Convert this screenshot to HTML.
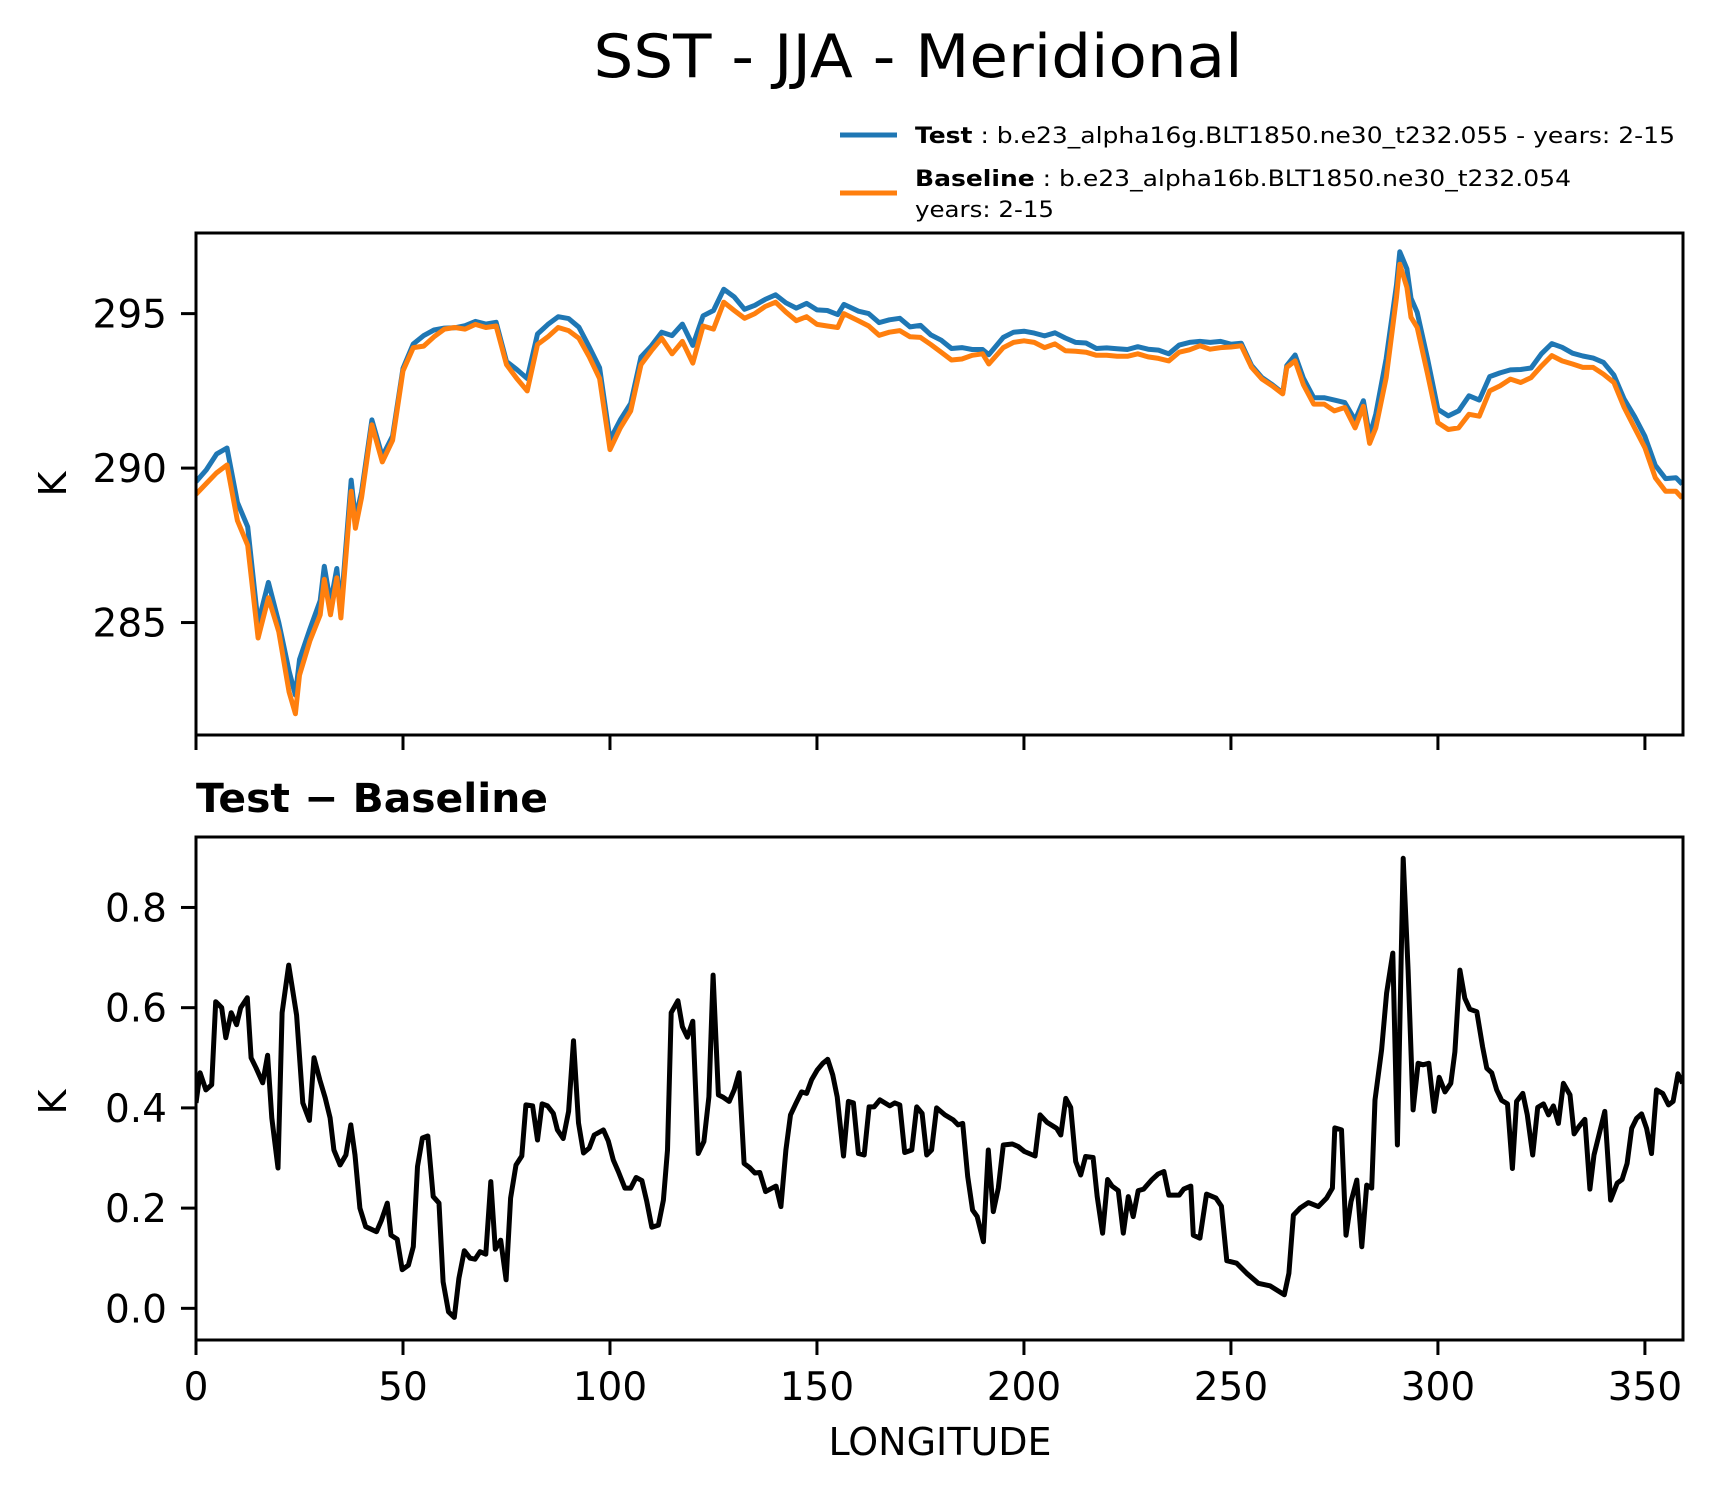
<!DOCTYPE html>
<html><head><meta charset="utf-8">
<style>
html,body{margin:0;padding:0;background:#fff;}
svg{display:block;font-family:"DejaVu Sans","Liberation Sans",sans-serif;}
</style></head>
<body>
<svg id="chart" width="1716" height="1496" viewBox="0 0 1716 1496" xmlns="http://www.w3.org/2000/svg">
  <rect x="0" y="0" width="1716" height="1496" fill="#fff"/>
  <text x="918" y="77" text-anchor="middle" font-size="60" textLength="649" lengthAdjust="spacingAndGlyphs">SST - JJA - Meridional</text>
  <g>
    <line x1="840" y1="135" x2="897" y2="135" stroke="#1f77b4" stroke-width="5"/>
    <text x="915" y="143" font-size="22" textLength="760" lengthAdjust="spacingAndGlyphs"><tspan font-weight="bold">Test</tspan> : b.e23_alpha16g.BLT1850.ne30_t232.055 - years: 2-15</text>
    <line x1="840" y1="193" x2="897" y2="193" stroke="#ff7f0e" stroke-width="5"/>
    <text x="915" y="186" font-size="22" textLength="656" lengthAdjust="spacingAndGlyphs"><tspan font-weight="bold">Baseline</tspan> : b.e23_alpha16b.BLT1850.ne30_t232.054</text>
    <text x="915" y="217" font-size="22" textLength="139" lengthAdjust="spacingAndGlyphs">years: 2-15</text>
  </g>
  <g id="top"></g>
  <text x="196" y="812" font-size="40" font-weight="bold" textLength="352" lengthAdjust="spacingAndGlyphs">Test − Baseline</text>
  <g id="bot"></g>
  <text x="940" y="1455" text-anchor="middle" font-size="38">LONGITUDE</text>
  <text transform="translate(66,484) rotate(-90)" text-anchor="middle" font-size="38">K</text>
  <text transform="translate(66,1102) rotate(-90)" text-anchor="middle" font-size="38">K</text>
</svg>
<script>
const baseLon = [0,2.5,5,7.5,10,12.5,15,17.5,20,22.5,24,25,27.5,30,31,32.5,34,35,37.5,38.5,40,42.5,45,47.5,50,52.5,55,57.5,60,62.5,65,67.5,70,72.5,75,77.5,80,82.5,85,87.5,90,92.5,95,97.5,100,102.5,105,107.5,110,112.5,115,117.5,120,122.5,125,127.5,130,132.5,135,137.5,140,142.5,145,147.5,150,152.5,155,156.5,160,162.5,165,167.5,170,172.5,175,177.5,180,182.5,185,187.5,190,191.5,195,197.5,200,202.5,205,207.5,210,212.5,215,217.5,220,222.5,225,227.5,230,232.5,235,237.5,240,242.5,245,247.5,250,252.5,255,257.5,260,262.5,263.5,265.5,267.5,270,272.5,275,277.5,280,282,283.5,285,287.5,290,290.8,292.5,293.5,295,297.5,300,302.5,305,307.5,310,312.5,315,317.5,320,322.5,325,327.5,330,332.5,335,337.5,340,342.5,345,347.5,350,352.5,355,357.5,359];
const baselineValues = [289.15,289.5,289.85,290.1,288.3,287.5,284.5,285.8,284.7,282.75,282.05,283.3,284.4,285.25,286.4,285.25,286.45,285.15,289.25,288.05,289.05,291.4,290.2,290.9,293.15,293.9,293.95,294.25,294.5,294.55,294.5,294.65,294.55,294.6,293.35,292.9,292.5,294.0,294.25,294.55,294.45,294.2,293.6,292.9,290.6,291.3,291.85,293.35,293.8,294.2,293.7,294.1,293.4,294.6,294.5,295.37,295.1,294.85,295.0,295.23,295.37,295.05,294.77,294.9,294.65,294.6,294.55,295.0,294.77,294.6,294.3,294.4,294.45,294.25,294.23,294.0,293.75,293.5,293.53,293.65,293.7,293.37,293.9,294.07,294.12,294.07,293.9,294.02,293.8,293.78,293.75,293.65,293.65,293.62,293.62,293.7,293.6,293.55,293.47,293.75,293.83,293.96,293.85,293.9,293.92,293.96,293.26,292.88,292.66,292.4,293.26,293.47,292.7,292.07,292.07,291.85,291.96,291.3,292.0,290.8,291.3,292.93,295.53,296.6,295.85,294.88,294.55,293.04,291.47,291.25,291.3,291.74,291.68,292.5,292.66,292.88,292.77,292.93,293.3,293.64,293.47,293.37,293.26,293.26,293.04,292.77,291.96,291.3,290.66,289.69,289.25,289.25,289.03];
const testValues = [289.56,289.94,290.46,290.65,288.89,288.1,284.98,286.3,285.0,283.43,282.65,283.8,284.78,285.71,286.82,285.63,286.75,285.44,289.61,288.36,289.23,291.56,290.38,291.04,293.23,294.02,294.29,294.47,294.53,294.54,294.61,294.75,294.66,294.72,293.45,293.19,292.9,294.34,294.65,294.9,294.84,294.56,293.92,293.25,290.92,291.56,292.09,293.6,293.96,294.4,294.29,294.66,293.97,294.93,295.1,295.79,295.54,295.14,295.27,295.46,295.61,295.35,295.18,295.33,295.12,295.1,294.97,295.3,295.08,295.0,294.71,294.8,294.85,294.57,294.62,294.31,294.14,293.87,293.9,293.84,293.84,293.67,294.23,294.4,294.43,294.37,294.28,294.38,294.21,294.07,294.05,293.87,293.89,293.86,293.84,293.93,293.85,293.82,293.7,293.98,294.07,294.1,294.07,294.1,294.01,294.04,293.32,292.93,292.7,292.43,293.32,293.66,292.91,292.28,292.28,292.2,292.12,291.55,292.18,291.04,291.75,293.55,295.93,297.0,296.45,295.5,295.04,293.53,291.9,291.69,291.85,292.34,292.2,292.96,293.08,293.18,293.19,293.24,293.7,294.03,293.91,293.72,293.63,293.56,293.42,293.01,292.23,291.67,291.03,290.09,289.66,289.69,289.48];
const diffLon = [0,1,2.4,3.8,4.75,6.2,7.2,8.5,9.8,10.8,12.4,13.3,14.5,16.1,17.3,18.3,19.8,20.8,22.4,24.3,25.8,27.4,28.5,29.9,31.2,32.4,33.3,34.8,36.2,37.4,38.4,39.6,41,43.6,44.8,46.2,47.1,48.6,49.8,51.3,52.5,53.5,54.7,56,57.3,58.7,59.7,61,62.4,63.5,64.8,66.2,67.4,68.6,70,71.2,72.3,73.6,74.9,76,77.3,78.7,79.7,81.3,82.5,83.6,84.9,86.3,87.3,88.7,90,91.2,92.4,93.6,95,96.2,98.4,99.6,100.8,102,103.6,105,106.3,107.7,108.9,110.1,111.7,112.9,113.9,114.8,116.4,117.5,118.7,120,121.3,122.7,123.9,124.9,126.2,127.4,128.8,130,131.2,132.4,133.7,135,136.2,137.6,140.1,141.3,142.5,143.6,144.9,146.3,147.5,148.7,150.1,151.4,152.6,153.8,154.9,156.4,157.6,158.8,160,161.4,162.6,163.8,165.2,167.6,168.8,170,171.2,172.9,174.1,175.4,176.5,177.7,178.9,180.9,182.9,184.1,185.2,186.4,187.6,188.7,190.2,191.4,192.6,193.8,195,197.2,198.6,200.1,202.7,203.9,205.6,207.9,208.9,210.1,211.3,212.5,213.7,214.9,216.7,217.7,219,220.2,221.3,222.8,224,225.2,226.4,227.6,228.9,230.8,232.4,233.8,235,237.5,238.6,240.3,240.9,242.5,244.1,246.4,247.7,249,251.4,253.8,256.6,259.4,262.9,264,265.1,266.7,268.7,271.1,273.1,274.5,275.1,276.7,277.8,279,280.4,281.6,282.8,284,284.8,286.4,287.6,289.1,290.2,291.6,292.8,294,295.2,296.4,297.8,299.1,300.3,301.7,303.1,304.1,305.3,306.5,307.7,309.4,310.8,311.8,313,314.2,315.4,316.8,318,319,320.5,321.6,322.9,324.1,325.5,326.7,327.9,329.1,330.3,331.9,332.9,334.1,335.5,336.7,337.7,340.3,341.7,343.3,344.5,345.7,346.8,348,349.2,350.4,351.6,352.8,354.3,355.7,356.8,358,359.1];
const diffValues = [0.41,0.47,0.436,0.446,0.612,0.6,0.54,0.59,0.566,0.6,0.62,0.5,0.48,0.45,0.505,0.38,0.28,0.59,0.685,0.585,0.41,0.375,0.5,0.456,0.42,0.38,0.316,0.286,0.306,0.366,0.306,0.2,0.163,0.153,0.176,0.21,0.146,0.138,0.077,0.086,0.123,0.283,0.34,0.344,0.223,0.21,0.053,-0.007,-0.018,0.06,0.115,0.1,0.098,0.113,0.108,0.253,0.118,0.136,0.057,0.22,0.286,0.304,0.406,0.404,0.336,0.408,0.404,0.389,0.356,0.339,0.393,0.534,0.37,0.31,0.32,0.346,0.356,0.334,0.296,0.273,0.24,0.24,0.261,0.255,0.213,0.162,0.166,0.216,0.316,0.59,0.614,0.562,0.541,0.573,0.309,0.333,0.422,0.665,0.426,0.421,0.413,0.436,0.47,0.289,0.281,0.27,0.271,0.233,0.244,0.203,0.316,0.386,0.409,0.432,0.429,0.456,0.476,0.489,0.497,0.466,0.422,0.304,0.413,0.41,0.309,0.306,0.402,0.402,0.416,0.404,0.41,0.406,0.311,0.316,0.402,0.389,0.306,0.316,0.4,0.386,0.376,0.366,0.369,0.263,0.196,0.183,0.133,0.316,0.193,0.24,0.326,0.328,0.323,0.313,0.304,0.386,0.371,0.359,0.346,0.419,0.401,0.293,0.266,0.303,0.301,0.223,0.15,0.257,0.244,0.235,0.15,0.223,0.183,0.235,0.238,0.256,0.268,0.273,0.226,0.226,0.238,0.244,0.146,0.14,0.228,0.22,0.204,0.095,0.09,0.07,0.05,0.045,0.027,0.07,0.186,0.2,0.211,0.203,0.22,0.24,0.36,0.356,0.146,0.213,0.256,0.123,0.246,0.24,0.416,0.516,0.629,0.709,0.326,0.898,0.675,0.396,0.489,0.486,0.489,0.393,0.461,0.432,0.449,0.512,0.675,0.619,0.597,0.592,0.522,0.479,0.47,0.436,0.415,0.408,0.279,0.413,0.429,0.386,0.306,0.401,0.408,0.386,0.404,0.369,0.449,0.426,0.348,0.363,0.377,0.238,0.306,0.393,0.216,0.25,0.257,0.289,0.359,0.379,0.388,0.359,0.309,0.436,0.429,0.406,0.413,0.468,0.449];
const xTicks = [0,50,100,150,200,250,300,350];
const topYTicks = [285,290,295];
const botYTicks = [0.0,0.2,0.4,0.6,0.8];

const NS = "http://www.w3.org/2000/svg";
const L = 196, R = 1683;
const XMIN = 0, XMAX = 359.2;
const xs = v => L + (v - XMIN) / (XMAX - XMIN) * (R - L);
const TT = 233, TB = 735, TYMIN = 281.36, TYMAX = 297.61;
const yTop = v => TB - (v - TYMIN) / (TYMAX - TYMIN) * (TB - TT);
const BT = 837, BB = 1340, BYMIN = -0.0632, BYMAX = 0.9406;
const yBot = v => BB - (v - BYMIN) / (BYMAX - BYMIN) * (BB - BT);

function mk(tag, attrs, parent){
  const e = document.createElementNS(NS, tag);
  for (const k in attrs) e.setAttribute(k, attrs[k]);
  parent.appendChild(e);
  return e;
}
function drawAxes(g, top, bot, yTicks, yScale, fmt, showXLabels){
  for (const t of xTicks){
    const tk = mk('line', {x1: xs(t), x2: xs(t), y1: bot, y2: bot + 15, stroke: '#000', 'stroke-width': 3}, g);
    
    
    if (showXLabels){
      const lb = mk('text', {x: xs(t), y: 1400, 'text-anchor': 'middle', 'font-size': 39}, g);
      lb.textContent = String(t);
      
      
    }
  }
  for (const t of yTicks){
    const y = yScale(t);
    const tk = mk('line', {x1: L - 15, x2: L, y1: y, y2: y, stroke: '#000', 'stroke-width': 3}, g);
    
    
    const lb = mk('text', {x: L - 29, y: y + 14, 'text-anchor': 'end', 'font-size': 39}, g);
    lb.textContent = fmt(t);
    
    
  }
  const fr = mk('rect', {x: L, y: top, width: R - L, height: bot - top, fill: 'none', stroke: '#000', 'stroke-width': 3}, g);
  
  
}
function drawLine(g, lons, vals, yScale, color, width, name, clipId){
  const pts = lons.map((x, i) => xs(x).toFixed(1) + ',' + yScale(vals[i]).toFixed(1)).join(' ');
  const pl = mk('polyline', {points: pts, fill: 'none', stroke: color, 'stroke-width': width, 'stroke-linejoin': 'round', 'clip-path': 'url(#' + clipId + ')'}, g);
  
  
}
const svg = document.getElementById('chart');
const defs = mk('defs', {}, svg);
const c1 = mk('clipPath', {id: 'clipTop'}, defs);
mk('rect', {x: L, y: TT, width: R - L, height: TB - TT}, c1);
const c2 = mk('clipPath', {id: 'clipBot'}, defs);
mk('rect', {x: L, y: BT, width: R - L, height: BB - BT}, c2);

const gt = document.getElementById('top');
drawLine(gt, baseLon, testValues, yTop, '#1f77b4', 5, 'test-series-line', 'clipTop');
drawLine(gt, baseLon, baselineValues, yTop, '#ff7f0e', 5, 'baseline-series-line', 'clipTop');
drawAxes(gt, TT, TB, topYTicks, yTop, v => String(v), false);

const gb = document.getElementById('bot');
drawLine(gb, diffLon, diffValues, yBot, '#000', 5, 'difference-series-line', 'clipBot');
drawAxes(gb, BT, BB, botYTicks, yBot, v => v.toFixed(1), true);
</script>
</body></html>
